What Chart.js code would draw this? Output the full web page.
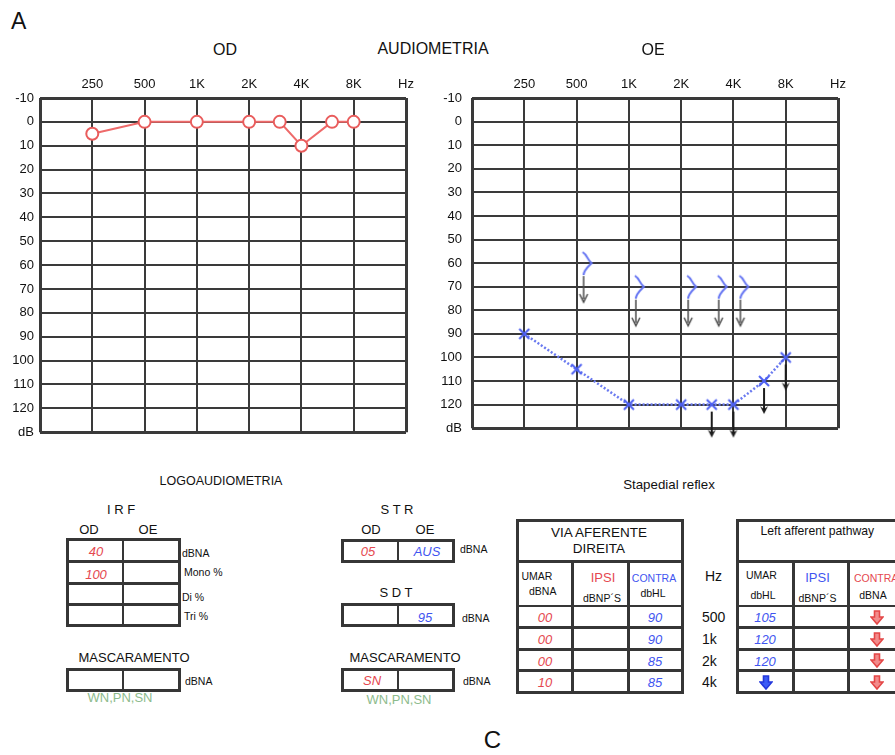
<!DOCTYPE html>
<html>
<head>
<meta charset="utf-8">
<script src="https://cdn.jsdelivr.net/npm/chart.js@4.4.1/dist/chart.umd.min.js"></script>
<style>
    html, body { margin: 0; padding: 0; background: #fff; }
    body {
        width: 895px; height: 755px; position: relative; overflow: hidden;
        font-family: "Liberation Sans", Arial, sans-serif; color: #111;
    }
    canvas { position: absolute; }
    .t { position: absolute; white-space: nowrap; line-height: 1; }
    .ln { position: absolute; background: #363636; }
</style>
</head>
<body>
<canvas id="odChart" width="440" height="388" style="left:0;top:58px"></canvas>
<canvas id="oeChart" width="440" height="388" style="left:432px;top:58px"></canvas>
<script>
// Audiogram axes
const freqTicks = [125, 250, 500, 1000, 2000, 4000, 8000, 16000];
const freqTickLabels = ['', '250', '500', '1K', '2K', '4K', '8K', 'Hz'];
const dbTicks = [-10, 0, 10, 20, 30, 40, 50, 60, 70, 80, 90, 100, 110, 120, 130];
const dbTickLabels = ['-10', '0', '10', '20', '30', '40', '50', '60', '70', '80', '90', '100', '110', '120', 'dB'];

// Right ear (OD) air conduction
const odFreqs = [250, 500, 1000, 2000, 3000, 4000, 6000, 8000];
const odThresholds = [5, 0, 0, 0, 0, 10, 0, 0];

// Left ear (OE) air conduction
const oeFreqs = [250, 500, 1000, 2000, 3000, 4000, 6000, 8000];
const oeThresholds = [90, 105, 120, 120, 120, 120, 110, 100];
const oeNoResponse = [false, false, false, false, true, true, true, true];

// Left ear (OE) bone conduction, all without response
const oeBoneFreqs = [500, 1000, 2000, 3000, 4000];
const oeBoneThresholds = [60, 70, 70, 70, 70];

// Logoaudiometria
const irfRowLabels = ['dBNA', 'Mono %', 'Di %', 'Tri %'];
const irfOD = ['40', '100', '', ''];
const irfOE = ['', '', '', ''];
const strValues = ['05', 'AUS'];
const sdtValues = ['', '95'];
const maskLeft = ['', ''];
const maskRight = ['SN', ''];

// Stapedial reflex
const reflexHz = ['500', '1k', '2k', '4k'];
const rightUmar = ['00', '00', '00', '10'];
const rightIpsi = ['', '', '', ''];
const rightContra = ['90', '90', '85', '85'];
const leftUmar = ['105', '120', '120', null];   // null = absent (arrow)
const leftIpsi = ['', '', '', ''];
const leftContraAbsent = [true, true, true, true];

const RED = '#e5484f';
const BLUE = '#3f55f0';
const GREEN = '#8dbb8d';
const FONT = '"Liberation Sans", Arial, sans-serif';

Chart.defaults.font.family = FONT;
Chart.defaults.color = '#111';

function makeCanvas(w, h, draw) {
    const c = document.createElement('canvas');
    c.width = w;
    c.height = h;
    draw(c.getContext('2d'));
    return c;
}

function drawCross(g, cx, cy) {
    g.strokeStyle = '#4c5ff2';
    g.lineWidth = 2;
    g.beginPath();
    g.moveTo(cx - 5, cy - 5); g.lineTo(cx + 5, cy + 5);
    g.moveTo(cx + 5, cy - 5); g.lineTo(cx - 5, cy + 5);
    g.stroke();
}

function drawDownArrow(g, x, y1, y2, color, width, filled) {
    g.strokeStyle = color;
    g.fillStyle = color;
    g.lineWidth = width;
    g.beginPath();
    g.moveTo(x, y1); g.lineTo(x, y2 - 3);
    g.stroke();
    g.beginPath();
    g.moveTo(x - 4, y2 - 8);
    g.lineTo(x, y2);
    g.lineTo(x + 4, y2 - 8);
    if (filled) {
        g.lineTo(x, y2 - 5);
        g.closePath();
        g.fill();
    } else {
        g.stroke();
    }
}

const crossMark = makeCanvas(24, 24, g => drawCross(g, 12, 12));
const crossNoResponse = makeCanvas(24, 80, g => {
    drawCross(g, 12, 40);
    drawDownArrow(g, 12, 47, 73, '#1c1c1c', 2, true);
});
// left bone conduction ">" drawn right of the frequency line, with arrow
const boneNoResponse = makeCanvas(40, 84, g => {
    g.strokeStyle = '#6474f2';
    g.lineWidth = 2;
    g.beginPath();
    g.moveTo(26, 31);
    g.bezierCurveTo(31, 34, 30, 38, 35, 42);
    g.bezierCurveTo(31, 46, 27, 49, 27, 54);
    g.stroke();
    drawDownArrow(g, 27, 55, 81, '#4a4a4a', 1.5, false);
});

function gridWidth(ctx) {
    const n = ctx.scale.ticks.length;
    return (ctx.index === 0 || ctx.index === n - 1) ? 3 : 2;
}

function makeAudiogram(canvasId, datasets, yPad) {
    return new Chart(document.getElementById(canvasId), {
        type: 'line',
        data: { datasets: datasets },
        options: {
            responsive: false,
            animation: false,
            events: [],
            layout: { padding: { top: 0, right: 34, bottom: 12, left: 0 } },
            plugins: { legend: { display: false }, tooltip: { enabled: false } },
            scales: {
                x: {
                    type: 'logarithmic',
                    position: 'top',
                    min: 125,
                    max: 16000,
                    afterBuildTicks: s => { s.ticks = freqTicks.map(v => ({ value: v })); },
                    afterFit: s => { s.height = 40; },
                    ticks: {
                        callback: (v, i) => freqTickLabels[i],
                        autoSkip: false,
                        maxRotation: 0,
                        padding: 6,
                        font: { size: 13 }
                    },
                    grid: { color: '#3a3a3a', lineWidth: gridWidth, drawTicks: false },
                    border: { display: false }
                },
                y: {
                    type: 'linear',
                    reverse: true,
                    min: -10,
                    max: 130,
                    afterBuildTicks: s => { s.ticks = dbTicks.map(v => ({ value: v })); },
                    afterFit: s => { s.width = 40; },
                    ticks: {
                        callback: (v, i) => dbTickLabels[i],
                        autoSkip: false,
                        padding: yPad,
                        font: { size: 13 }
                    },
                    grid: { color: '#3a3a3a', lineWidth: gridWidth, drawTicks: false },
                    border: { display: false }
                }
            }
        }
    });
}

makeAudiogram('odChart', [{
    data: odFreqs.map((f, i) => ({ x: f, y: odThresholds[i] })),
    borderColor: '#ee6a6a',
    borderWidth: 2,
    pointStyle: 'circle',
    pointRadius: 6,
    pointBorderWidth: 2,
    pointBorderColor: '#e95c5c',
    pointBackgroundColor: '#fff',
    tension: 0,
    clip: false
}], 6);

makeAudiogram('oeChart', [{
    data: oeFreqs.map((f, i) => ({ x: f, y: oeThresholds[i] })),
    borderColor: '#6a7af0',
    borderWidth: 2.5,
    borderDash: [2, 2],
    pointStyle: ctx => oeNoResponse[ctx.dataIndex] ? crossNoResponse : crossMark,
    pointRadius: 6,
    tension: 0,
    clip: false
}, {
    data: oeBoneFreqs.map((f, i) => ({ x: f, y: oeBoneThresholds[i] })),
    showLine: false,
    pointStyle: boneNoResponse,
    pointRadius: 6,
    clip: false
}], 10);

// ---- page text and tables ----
function text(str, x, y, opts = {}) {
    const el = document.createElement('div');
    el.className = 't';
    el.textContent = str;
    el.style.left = x + 'px';
    el.style.top = y + 'px';
    el.style.fontSize = (opts.size || 13) + 'px';
    if (opts.color) el.style.color = opts.color;
    if (opts.italic) el.style.fontStyle = 'italic';
    el.style.transform = opts.left ? 'translate(0,-50%)' : 'translate(-50%,-50%)';
    document.body.appendChild(el);
}

function hLine(x1, x2, y, w) {
    const el = document.createElement('div');
    el.className = 'ln';
    el.style.left = (x1 - w / 2) + 'px';
    el.style.top = (y - w / 2) + 'px';
    el.style.width = (x2 - x1 + w) + 'px';
    el.style.height = w + 'px';
    document.body.appendChild(el);
}

function vLine(x, y1, y2, w) {
    const el = document.createElement('div');
    el.className = 'ln';
    el.style.left = (x - w / 2) + 'px';
    el.style.top = (y1 - w / 2) + 'px';
    el.style.width = w + 'px';
    el.style.height = (y2 - y1 + w) + 'px';
    document.body.appendChild(el);
}

function box(xs, ys) {
    const x1 = xs[0], x2 = xs[xs.length - 1], y1 = ys[0], y2 = ys[ys.length - 1];
    ys.forEach((y, i) => hLine(x1, x2, y, (i === 0 || i === ys.length - 1) ? 3 : 2.5));
    xs.forEach((x, i) => vLine(x, y1, y2, (i === 0 || i === xs.length - 1) ? 3 : 2.5));
}

text('A', 11, 21, { size: 23, left: true });
text('OD', 225, 50, { size: 16 });
text('AUDIOMETRIA', 433, 49, { size: 16 });
text('OE', 653, 50, { size: 16 });

// Logoaudiometria
text('LOGOAUDIOMETRIA', 221, 481, { size: 12.5 });
text('I R F', 121, 509);
text('OD', 89, 529);
text('OE', 148, 529);
const irfYs = [539, 561.7, 583.3, 604.3, 625.7];
box([67, 123, 179], irfYs);
const irfLabelPos = [[182, 553], [184, 572], [182, 597], [184, 616]];
irfRowLabels.forEach((lab, i) => {
    const c = (irfYs[i] + irfYs[i + 1]) / 2;
    text(irfOD[i], 96, c + 1, { color: RED, italic: true });
    text(irfOE[i], 151, c + 1, { color: RED, italic: true });
    text(lab, irfLabelPos[i][0], irfLabelPos[i][1], { size: 10.5, left: true });
});

text('S T R', 397, 509);
text('OD', 371, 529);
text('OE', 425, 529);
box([342, 398, 453], [540, 561.7]);
text(strValues[0], 368, 551, { color: RED, italic: true });
text(strValues[1], 427, 551, { color: BLUE, italic: true });
text('dBNA', 460, 549, { size: 10.5, left: true });

text('S D T', 396, 592);
box([342, 398, 453], [604, 625.7]);
text(sdtValues[0], 368, 617, { color: BLUE, italic: true });
text(sdtValues[1], 425, 617, { color: BLUE, italic: true });
text('dBNA', 462, 618, { size: 10.5, left: true });

text('MASCARAMENTO', 134, 657);
box([67, 123, 179], [669, 690]);
text(maskLeft[0], 95, 680, { color: RED, italic: true });
text(maskLeft[1], 151, 680, { color: RED, italic: true });
text('dBNA', 185, 681, { size: 10.5, left: true });
text('WN,PN,SN', 120, 697, { color: GREEN });

text('MASCARAMENTO', 405, 657);
box([342, 398, 453], [669, 690]);
text(maskRight[0], 372, 680, { color: RED, italic: true });
text(maskRight[1], 426, 680, { color: RED, italic: true });
text('dBNA', 463, 681, { size: 10.5, left: true });
text('WN,PN,SN', 399, 699, { color: GREEN });

// Stapedial reflex
text('Stapedial reflex', 669, 484.5, { size: 13.3 });
const reflexYs = [520.7, 561.7, 606, 627.7, 649.3, 670.7, 692.3];

function reflexFrame(xs) {
    const x1 = xs[0], x2 = xs[xs.length - 1];
    reflexYs.forEach((y, i) => hLine(x1, x2, y, (i === 0 || i === reflexYs.length - 1) ? 3 : 2.5));
    vLine(x1, reflexYs[0], reflexYs[6], 3);
    vLine(x2, reflexYs[0], reflexYs[6], 3);
    for (let i = 1; i < xs.length - 1; i++) vLine(xs[i], reflexYs[1], reflexYs[6], 2.5);
}

function blockArrow(x, y, fill, stroke) {
    const ns = 'http://www.w3.org/2000/svg';
    const svg = document.createElementNS(ns, 'svg');
    svg.setAttribute('width', 14);
    svg.setAttribute('height', 15);
    svg.style.position = 'absolute';
    svg.style.left = (x - 7) + 'px';
    svg.style.top = (y - 7.5) + 'px';
    const p = document.createElementNS(ns, 'polygon');
    p.setAttribute('points', '4.5,1 9.5,1 9.5,7 13,7 7,14 1,7 4.5,7');
    p.setAttribute('fill', fill);
    p.setAttribute('stroke', stroke);
    p.setAttribute('stroke-width', '1.6');
    svg.appendChild(p);
    document.body.appendChild(svg);
}

const rowMid = i => (reflexYs[i + 2] + reflexYs[i + 3]) / 2;

reflexFrame([517.3, 572.7, 628.3, 682.7]);
text('VIA AFERENTE', 599, 532.5, { size: 13.5 });
text('DIREITA', 599, 548.5, { size: 13.5 });
text('UMAR', 521.5, 576, { size: 10.5, left: true });
text('dBNA', 529, 591, { size: 10.5, left: true });
text('IPSI', 603, 577, { size: 13, color: RED });
text('dBNP\u00B4S', 602, 597.5, { size: 10.5 });
text('CONTRA', 654, 577.5, { size: 10.5, color: BLUE });
text('dbHL', 653, 593, { size: 10.5 });
reflexHz.forEach((hz, i) => {
    const c = rowMid(i) + 0.5;
    text(rightUmar[i], 545, c, { color: RED, italic: true });
    text(rightIpsi[i], 601, c, { color: RED, italic: true });
    text(rightContra[i], 655, c, { color: BLUE, italic: true });
    text(hz, 702, c, { size: 14, left: true });
});
text('Hz', 705, 576, { size: 14, left: true });

reflexFrame([737.7, 793.3, 848.7, 905]);
text('Left afferent pathway', 760.5, 531, { size: 12.2, left: true });
text('UMAR', 761.5, 575, { size: 10.5 });
text('dbHL', 763, 594.5, { size: 10.5 });
text('IPSI', 817.5, 577, { size: 13, color: BLUE });
text('dBNP\u00B4S', 817.5, 598, { size: 10.5 });
text('CONTRA', 854, 577.5, { size: 10.5, color: RED, left: true });
text('dBNA', 873, 594.5, { size: 10.5 });
leftUmar.forEach((v, i) => {
    const c = rowMid(i) + 0.5;
    if (v === null) blockArrow(766, c, '#3c5cf6', '#2438dc');
    else text(v, 765, c, { color: BLUE, italic: true });
    text(leftIpsi[i], 821, c, { color: BLUE, italic: true });
    if (leftContraAbsent[i]) blockArrow(876.5, c, '#f28b8b', '#e44646');
});

text('C', 492.5, 740, { size: 24 });
</script>
</body>
</html>
